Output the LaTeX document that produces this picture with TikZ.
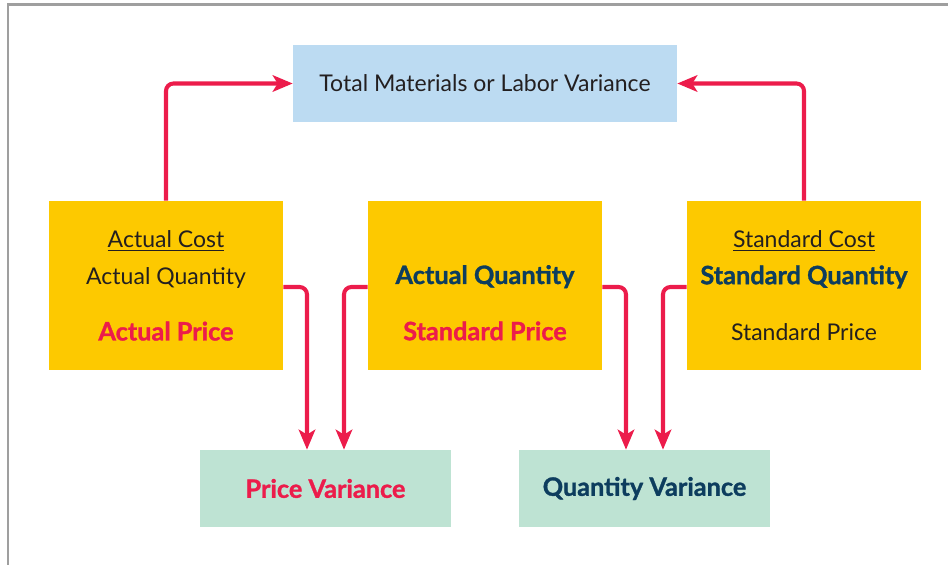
\documentclass[tikz,border=0pt]{standalone}
\usepackage{fontspec}
\setmainfont{Lato}[BoldFeatures={FakeBold=1.2}]
\usepackage{tikz}
\usetikzlibrary{arrows.meta,positioning}
\definecolor{flowred}{HTML}{EC1C4B}
\definecolor{inknavy}{HTML}{0D3D5E}
\definecolor{inkdark}{HTML}{231F20}
\definecolor{costyellow}{HTML}{FDC900}
\definecolor{totblue}{HTML}{BCDBF2}
\definecolor{varmint}{HTML}{BEE3D3}
\newcommand{\heavy}{\fontsize{14.4}{16}\selectfont\bfseries}

\begin{document}
\begin{tikzpicture}[x=0.02cm,y=-0.02cm,
  every node/.style={inner sep=0pt,text=inkdark,font=\fontsize{13.1}{16}\selectfont},
  totbox/.style={fill=totblue,minimum width=7.68cm,minimum height=1.54cm},
  costbox/.style={fill=costyellow,minimum width=4.68cm,minimum height=3.38cm,align=center},
  varbox/.style={fill=varmint,minimum width=5.02cm,minimum height=1.54cm,font=\heavy},
  flow/.style={flowred,line width=2.3pt,rounded corners=1.5mm,
    -{Stealth[length=4mm,width=3.3mm,inset=1mm]}}]
  \useasboundingbox (0,0) rectangle (948,565);
  \draw[gray!75,line width=1.3pt] (8,565) -- (8,4.5) -- (948,4.5);

  \node[totbox] (total) at (485,83.5) {Total Materials or Labor Variance};

  \node[costbox] (actual) at (166,285.5)
    {\underline{Actual Cost}\\[5pt] Actual Quantity\\[16pt]
     \textcolor{flowred}{\heavy Actual Price}};
  \node[costbox] (mixed) at (485,285.5)
    {\phantom{X}\\[5pt] \textcolor{inknavy}{\heavy Actual Quantity}\\[16pt]
     \textcolor{flowred}{\heavy Standard Price}};
  \node[costbox] (standard) at (804,285.5)
    {\underline{Standard Cost}\\[5pt] \textcolor{inknavy}{\heavy Standard Quantity}\\[16pt]
     Standard Price};

  \node[varbox,text=flowred] (pricevar) at (325.5,488.5) {Price Variance};
  \node[varbox,text=inknavy] (qtyvar) at (644.5,488.5) {Quantity Variance};

  \draw[flow] (actual.north) |- (total.west);
  \draw[flow] (standard.north) |- (total.east);
  \draw[flow] ([yshift=-0.3mm]actual.east) -| ([xshift=-3.7mm]pricevar.north);
  \draw[flow] ([yshift=-0.3mm]mixed.west) -| ([xshift=3.7mm]pricevar.north);
  \draw[flow] ([yshift=-0.3mm]mixed.east) -| ([xshift=-3.7mm]qtyvar.north);
  \draw[flow] ([yshift=-0.3mm]standard.west) -| ([xshift=3.7mm]qtyvar.north);
\end{tikzpicture}
\end{document}
